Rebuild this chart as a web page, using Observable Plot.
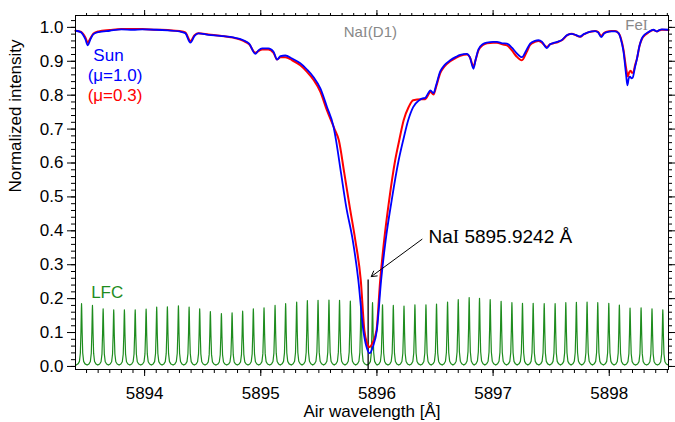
<!DOCTYPE html>
<html><head><meta charset="utf-8">
<script src="https://cdn.jsdelivr.net/npm/d3@7"></script>
<script src="https://cdn.jsdelivr.net/npm/@observablehq/plot@0.6"></script>
<style>body{margin:0;background:#fff;}</style>
</head><body><div id="chart"></div>
<script>
// ---- Data ----
const blueWl = [5893.405,5893.45,5893.49,5893.511,5893.53,5893.56,5893.603,5893.70,5893.80,5893.90,5893.98,5894.10,5894.20,5894.30,5894.35,5894.394,5894.43,5894.463,5894.55,5894.65,5894.781,5894.85,5894.90,5894.953,5894.98,5895.011,5895.065,5895.11,5895.140,5895.17,5895.211,5895.27,5895.340,5895.40,5895.455,5895.513,5895.570,5895.627,5895.648,5895.691,5895.736,5895.792,5895.840,5895.883,5895.910,5895.938,5895.965,5895.999,5896.036,5896.075,5896.127,5896.187,5896.226,5896.269,5896.312,5896.36,5896.387,5896.416,5896.445,5896.46,5896.487,5896.51,5896.545,5896.58,5896.631,5896.68,5896.717,5896.775,5896.80,5896.831,5896.85,5896.874,5896.91,5896.947,5897.00,5897.033,5897.08,5897.119,5897.162,5897.20,5897.248,5897.29,5897.319,5897.36,5897.391,5897.42,5897.463,5897.49,5897.520,5897.56,5897.592,5897.64,5897.678,5897.71,5897.749,5897.78,5897.807,5897.85,5897.878,5897.905,5897.930,5897.955,5897.979,5898.020,5898.050,5898.080,5898.100,5898.122,5898.145,5898.156,5898.168,5898.179,5898.190,5898.202,5898.220,5898.237,5898.26,5898.280,5898.310,5898.337,5898.380,5898.409,5898.43,5898.452,5898.51];
const blueI = [0.990,0.986,0.965,0.947,0.962,0.980,0.986,0.990,0.994,0.993,0.994,0.993,0.991,0.988,0.983,0.955,0.975,0.982,0.978,0.975,0.969,0.962,0.952,0.922,0.932,0.938,0.938,0.928,0.905,0.915,0.917,0.908,0.894,0.875,0.853,0.820,0.765,0.706,0.667,0.570,0.470,0.372,0.254,0.106,0.058,0.039,0.058,0.106,0.254,0.372,0.490,0.608,0.667,0.726,0.765,0.784,0.790,0.792,0.808,0.814,0.806,0.830,0.870,0.888,0.903,0.913,0.919,0.922,0.912,0.878,0.905,0.935,0.950,0.955,0.957,0.957,0.953,0.952,0.940,0.925,0.912,0.935,0.952,0.960,0.962,0.958,0.939,0.950,0.954,0.958,0.963,0.978,0.981,0.978,0.973,0.980,0.984,0.988,0.989,0.985,0.971,0.982,0.986,0.988,0.988,0.983,0.965,0.930,0.860,0.829,0.850,0.855,0.850,0.852,0.880,0.905,0.945,0.967,0.980,0.986,0.993,0.988,0.992,0.994,0.993];

const redWl = [5893.405,5893.45,5893.49,5893.511,5893.53,5893.56,5893.603,5893.70,5893.80,5893.90,5893.98,5894.10,5894.20,5894.30,5894.35,5894.394,5894.43,5894.463,5894.55,5894.65,5894.781,5894.85,5894.90,5894.953,5894.98,5895.011,5895.065,5895.11,5895.140,5895.17,5895.211,5895.27,5895.340,5895.40,5895.455,5895.513,5895.570,5895.635,5895.672,5895.719,5895.766,5895.814,5895.861,5895.892,5895.915,5895.937,5895.960,5895.996,5896.028,5896.062,5896.105,5896.157,5896.192,5896.230,5896.273,5896.312,5896.38,5896.416,5896.445,5896.46,5896.487,5896.51,5896.545,5896.58,5896.631,5896.68,5896.717,5896.775,5896.80,5896.831,5896.85,5896.874,5896.91,5896.947,5897.00,5897.033,5897.08,5897.119,5897.162,5897.20,5897.248,5897.29,5897.319,5897.36,5897.391,5897.42,5897.463,5897.49,5897.520,5897.56,5897.592,5897.64,5897.678,5897.71,5897.749,5897.78,5897.807,5897.85,5897.878,5897.905,5897.930,5897.955,5897.979,5898.020,5898.050,5898.080,5898.100,5898.122,5898.145,5898.160,5898.172,5898.185,5898.195,5898.205,5898.222,5898.240,5898.26,5898.280,5898.310,5898.337,5898.380,5898.409,5898.43,5898.452,5898.51];
const redI = [0.990,0.987,0.970,0.955,0.966,0.982,0.988,0.992,0.995,0.995,0.995,0.993,0.992,0.989,0.985,0.960,0.977,0.983,0.979,0.975,0.968,0.960,0.950,0.925,0.930,0.935,0.935,0.925,0.905,0.912,0.912,0.903,0.888,0.868,0.845,0.810,0.755,0.700,0.667,0.570,0.470,0.372,0.254,0.106,0.068,0.057,0.068,0.106,0.254,0.372,0.490,0.608,0.667,0.726,0.765,0.785,0.788,0.788,0.803,0.810,0.802,0.825,0.865,0.884,0.900,0.910,0.916,0.920,0.912,0.885,0.905,0.932,0.947,0.953,0.955,0.955,0.950,0.947,0.932,0.915,0.903,0.928,0.948,0.957,0.960,0.955,0.942,0.950,0.953,0.957,0.962,0.977,0.981,0.977,0.972,0.979,0.984,0.988,0.989,0.986,0.975,0.983,0.987,0.989,0.989,0.983,0.968,0.935,0.880,0.855,0.868,0.872,0.866,0.866,0.888,0.910,0.945,0.965,0.978,0.985,0.992,0.988,0.991,0.993,0.992];

// Laser frequency comb: peak positions and heights
const lfcWl = [5893.457,5893.551,5893.643,5893.734,5893.826,5893.919,5894.013,5894.104,5894.196,5894.291,5894.383,5894.474,5894.566,5894.661,5894.753,5894.844,5894.936,5895.028,5895.123,5895.214,5895.309,5895.401,5895.493,5895.587,5895.678,5895.771,5895.863,5895.962,5896.048,5896.141,5896.233,5896.327,5896.422,5896.513,5896.608,5896.700,5896.794,5896.883,5896.975,5897.069,5897.162,5897.253,5897.345,5897.440,5897.534,5897.626,5897.717,5897.809,5897.901,5897.996,5898.087,5898.179,5898.274,5898.368,5898.461];
const lfcPeak = [0.185,0.180,0.170,0.167,0.167,0.167,0.169,0.175,0.176,0.179,0.175,0.170,0.162,0.156,0.158,0.163,0.170,0.173,0.180,0.185,0.190,0.194,0.195,0.196,0.195,0.193,0.192,0.188,0.182,0.180,0.178,0.182,0.182,0.184,0.190,0.197,0.203,0.201,0.197,0.192,0.188,0.186,0.186,0.185,0.185,0.188,0.189,0.190,0.188,0.186,0.181,0.172,0.173,0.170,0.167];
const lfcBase = 0.004;
// line profile of one comb mode (offset in Å, fraction of peak)
const profDx = [-0.046,-0.03,-0.018,-0.01,-0.005,-0.0015,0,0.0015,0.005,0.01,0.018,0.03];
const profF  = [0,0.02,0.06,0.2,0.55,0.92,1,0.92,0.55,0.2,0.06,0.02];

const naWl = 5895.9242;
const xTicks = [5894,5895,5896,5897,5898];
const yTicks = [0,0.1,0.2,0.3,0.4,0.5,0.6,0.7,0.8,0.9,1.0];

// ---- tables ----
const blue = blueWl.map((w,i)=>({wl:w, I:blueI[i]}));
const red = redWl.map((w,i)=>({wl:w, I:redI[i]}));
const comb = [];
lfcWl.forEach((c,k)=>{
  profDx.forEach((d,j)=>comb.push({wl:c+d, I:lfcBase+profF[j]*(lfcPeak[k]-lfcBase)}));
});
comb.push({wl:5898.51, I:lfcBase});

const xDom = [5893.405, 5898.51], yDom = [-0.009, 1.035];
const xMinor = d3.range(Math.ceil(xDom[0]*10), Math.floor(xDom[1]*10)+1).map(v=>v/10);
const yMinor = d3.range(0, 52).map(v=>v/50);

const F = 17;
const noTxt = () => "";
const chart = Plot.plot({
  width: 675, height: 422,
  marginLeft: 75, marginRight: 7, marginTop: 15, marginBottom: 53,
  x: {domain: xDom, label: null},
  y: {domain: yDom, label: null},
  style: {fontFamily: "'Liberation Sans', Arial, sans-serif", fontSize: "17px", background: "white", color: "black"},
  marks: [
    Plot.line(comb, {x:"wl", y:"I", stroke:"#1e8c1e", strokeWidth:1.2}),
    Plot.ruleX([naWl], {y1: yDom[0], y2: 0.255, stroke:"black", strokeWidth:1.3}),
    Plot.line(red, {x:"wl", y:"I", stroke:"#ff0000", strokeWidth:2, curve:"monotone-x"}),
    Plot.line(blue, {x:"wl", y:"I", stroke:"#0000ff", strokeWidth:1.8, curve:"monotone-x"}),
    Plot.frame({stroke:"black"}),
    Plot.axisX({anchor:"bottom", ticks:xTicks, tickSize:7, tickPadding:10, tickFormat:d=>String(d), fontSize:F, label:null}),
    Plot.axisX({anchor:"bottom", ticks:xMinor, tickSize:4, tickFormat:noTxt, label:null}),
    Plot.axisX({anchor:"top", ticks:xTicks, tickSize:6, tickFormat:noTxt, label:null}),
    Plot.axisX({anchor:"top", ticks:xMinor, tickSize:3, tickFormat:noTxt, label:null}),
    Plot.axisY({anchor:"left", ticks:yTicks, tickSize:8, tickPadding:4, tickFormat:d3.format(".1f"), fontSize:F, label:null}),
    Plot.axisY({anchor:"left", ticks:yMinor, tickSize:4, tickFormat:noTxt, label:null}),
    Plot.axisY({anchor:"right", ticks:yTicks, tickSize:6, tickFormat:noTxt, label:null}),
    Plot.axisY({anchor:"right", ticks:yMinor, tickSize:3, tickFormat:noTxt, label:null}),
    Plot.text(["Air wavelength [Å]"], {frameAnchor:"bottom", dy:47, fontSize:F}),
    Plot.text(["Normalized intensity"], {frameAnchor:"left", dx:-60, rotate:-90, fontSize:F}),
    Plot.text(["Sun"], {x:5893.689, y:0.917, fill:"#0000ff", fontSize:F}),
    Plot.text(["(μ=1.0)"], {x:5893.745, y:0.858, fill:"#0000ff", fontSize:F}),
    Plot.text(["(μ=0.3)"], {x:5893.745, y:0.798, fill:"#ff0000", fontSize:F}),
    Plot.text(["LFC"], {x:5893.678, y:0.218, fill:"#1e8c1e", fontSize:F}),
    Plot.text(["NaI(D1)"], {x:5895.943, y:0.987, fill:"#888888", fontSize:15}),
    Plot.text(["FeI"], {x:5898.235, y:1.006, fill:"#888888", fontSize:15}),
    Plot.text(["NaI 5895.9242 Å"], {x:5896.444, y:0.383, textAnchor:"start", fill:"black", fontSize:19}),
    Plot.arrow([naWl], {x1:5896.388, y1:0.375, x2:5895.951, y2:0.265, stroke:"black", strokeWidth:1, headLength:9, bend:0})
  ]
});
// Roman numeral "I" in serif, as in the original
d3.select(chart).selectAll("text").each(function(){
  const t = this.textContent;
  const m = t.match(/^(Na|Fe)I(.*)$/);
  if (m && this.children.length === 0) {
    const s = d3.select(this); s.text(null);
    s.append("tspan").text(m[1]);
    s.append("tspan").attr("font-family","'Liberation Serif', serif").text("I");
    if (m[2]) s.append("tspan").text(m[2]);
  }
});
document.getElementById("chart").appendChild(chart);
</script>
</body></html>
